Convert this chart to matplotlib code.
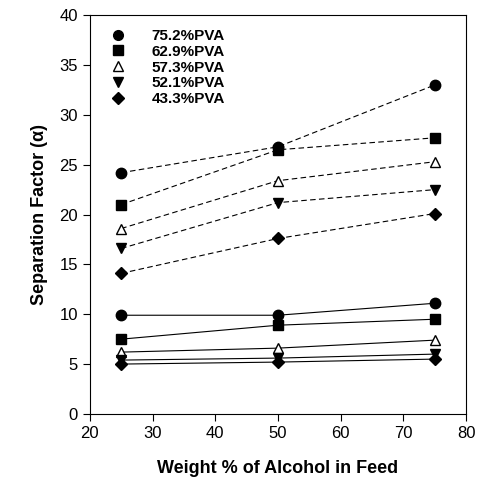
import matplotlib
matplotlib.use('Agg')
import matplotlib.pyplot as plt
from matplotlib.lines import Line2D

plt.rcParams['font.family'] = ['Liberation Sans', 'DejaVu Sans']

# Feed composition (wt % alcohol)
feed = [25, 50, 75]

labels = ['75.2%PVA', '62.9%PVA', '57.3%PVA', '52.1%PVA', '43.3%PVA']
markers = ['o', 's', '^', 'v', 'D']
fills = ['black', 'black', 'white', 'black', 'black']

# Upper (dashed) set of separation factors
alpha_dashed = [
    [24.2, 26.8, 33.0],
    [21.0, 26.5, 27.7],
    [18.6, 23.4, 25.3],
    [16.6, 21.2, 22.5],
    [14.1, 17.6, 20.1],
]

# Lower (solid) set of separation factors
alpha_solid = [
    [9.9, 9.9, 11.1],
    [7.5, 8.9, 9.5],
    [6.2, 6.6, 7.4],
    [5.4, 5.6, 6.0],
    [5.0, 5.2, 5.5],
]


def marker_size(m):
    return 6.5 if m == 'D' else 7.5


fig = plt.figure(figsize=(4.78, 4.91), dpi=100)
ax = fig.add_axes([0.188, 0.157, 0.787, 0.812])

for i in range(len(labels)):
    ms = marker_size(markers[i])
    ax.plot(feed, alpha_dashed[i], linestyle=(0, (5, 3)), color='black', lw=0.8,
            marker=markers[i], markersize=ms, markerfacecolor=fills[i],
            markeredgecolor='black', markeredgewidth=1)
    ax.plot(feed, alpha_solid[i], linestyle='-', color='black', lw=0.8,
            marker=markers[i], markersize=ms, markerfacecolor=fills[i],
            markeredgecolor='black', markeredgewidth=1)

handles = [Line2D([], [], linestyle='none', marker=markers[i], color='black',
                  markerfacecolor=fills[i], markersize=marker_size(markers[i]) - 0.5)
           for i in range(len(labels))]
leg = ax.legend(handles, labels, loc='upper left', frameon=False,
                bbox_to_anchor=(-0.002, 1.0), handletextpad=1.2,
                labelspacing=0.12, prop={'weight': 'bold', 'size': 11})

ax.set_xlim(20, 80)
ax.set_ylim(0, 40)
ax.set_xticks(range(20, 81, 10))
ax.set_yticks(range(0, 41, 5))
ax.tick_params(direction='out', length=5, width=0.8, labelsize=12)
for s in ax.spines.values():
    s.set_linewidth(0.8)

ax.set_xlabel('Weight % of Alcohol in Feed', fontsize=13, fontweight='bold', labelpad=14)
ax.set_ylabel('Separation Factor (\u03b1)', fontsize=13, fontweight='bold', labelpad=8)

fig.savefig('out.png', dpi=100)
